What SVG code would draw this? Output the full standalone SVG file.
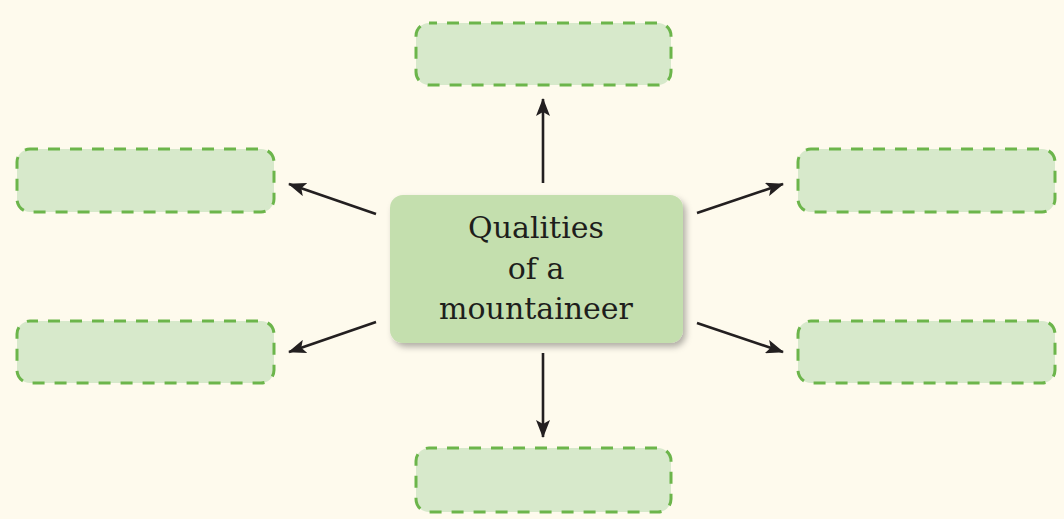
<svg xmlns="http://www.w3.org/2000/svg" width="1064" height="519" viewBox="0 0 1064 519">
<defs>
<style>
.slot{fill:#d7e9cb;stroke:#6cb54b;stroke-width:3;stroke-dasharray:12 10;stroke-dashoffset:4;}
.conn{stroke:#231f20;stroke-width:2.6;fill:none;marker-end:url(#ah);}
.lbl{font-family:"DejaVu Serif","Liberation Serif",serif;font-size:30px;fill:#1e1e1c;text-anchor:middle;}
</style>
<marker id="ah" viewBox="0 0 18 14" refX="17" refY="7" markerWidth="18" markerHeight="14" markerUnits="userSpaceOnUse" orient="auto">
<path d="M0,0 L18,7 L0,14 L4,7 Z" fill="#231f20"/>
</marker>
<filter id="sh" x="-10%" y="-10%" width="125%" height="130%">
<feDropShadow dx="3" dy="4" stdDeviation="3" flood-color="#000" flood-opacity="0.3"/>
</filter>
</defs>
<rect width="1064" height="519" fill="#fefaed"/>
<g id="connectors">
<line class="conn" x1="543" y1="183" x2="543" y2="99"/>
<line class="conn" x1="376" y1="214" x2="289" y2="184"/>
<line class="conn" x1="376" y1="322" x2="289" y2="352"/>
<line class="conn" x1="697" y1="213" x2="783" y2="184"/>
<line class="conn" x1="697" y1="323" x2="783" y2="352"/>
<line class="conn" x1="543" y1="353" x2="543" y2="437"/>
</g>
<g id="center">
<rect x="390" y="195" width="293" height="148" rx="13" fill="#c4dfae" filter="url(#sh)"/>
<text class="lbl" x="536" y="238">Qualities</text>
<text class="lbl" x="536" y="279">of a</text>
<text class="lbl" x="536" y="319">mountaineer</text>
</g>
<g id="top"><rect class="slot" x="416" y="23" width="255" height="62" rx="13"/></g>
<g id="left-upper"><rect class="slot" x="17" y="149" width="257" height="63" rx="13"/></g>
<g id="right-upper"><rect class="slot" x="798" y="149" width="257" height="63" rx="13"/></g>
<g id="left-lower"><rect class="slot" x="17" y="321" width="257" height="62" rx="13"/></g>
<g id="right-lower"><rect class="slot" x="798" y="321" width="257" height="62" rx="13"/></g>
<g id="bottom"><rect class="slot" x="416" y="448" width="255" height="64" rx="13"/></g>
</svg>
